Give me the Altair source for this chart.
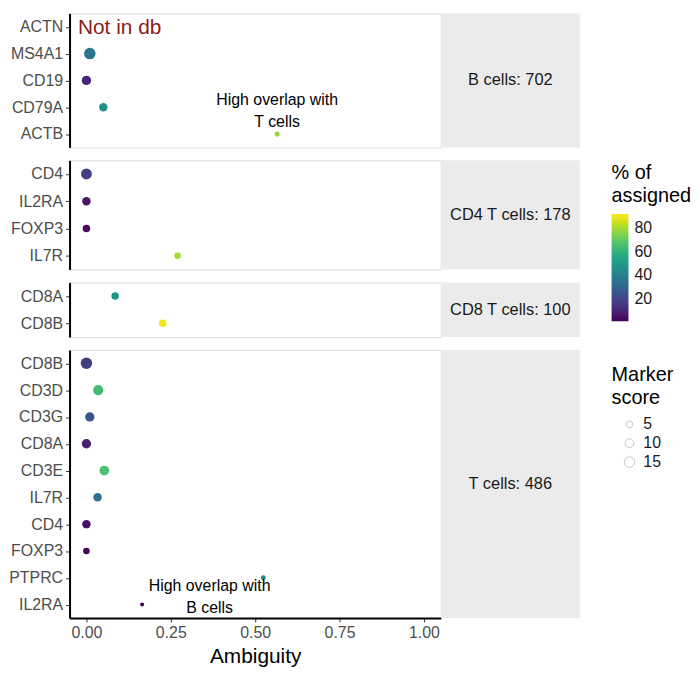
import altair as alt
import pandas as pd

# ---- data ----
cell_types = ["B cells", "CD4 T cells", "CD8 T cells", "T cells"]
cell_counts = [702, 178, 100, 486]

panel = (["B cells"] * 5 + ["CD4 T cells"] * 4 + ["CD8 T cells"] * 2 + ["T cells"] * 10)
genes = ["ACTN", "MS4A1", "CD19", "CD79A", "ACTB",
         "CD4", "IL2RA", "FOXP3", "IL7R",
         "CD8A", "CD8B",
         "CD8B", "CD3D", "CD3G", "CD8A", "CD3E", "IL7R", "CD4", "FOXP3", "PTPRC", "IL2RA"]
ambiguity = [None, 0.01, 0.0, 0.05, 0.565,
             0.0, 0.0, 0.0, 0.27,
             0.085, 0.226,
             0.0, 0.035, 0.01, 0.0, 0.053, 0.033, 0.0, 0.0, 0.524, 0.165]
pct_assigned = [None, 36, 10, 46, 78,
                17, 6, 3, 80,
                48, 90,
                18, 64, 25, 9, 66, 35, 5, 2, 40, 1]
marker_score = [None, 18, 11.4, 8.9, 2.2,
                16, 8.9, 6.7, 4.7,
                6.7, 6.7,
                18, 14, 11.4, 11.4, 12.5, 9, 9, 4.7, 1.8, 0.6]

notes_panel = ["B cells", "B cells", "T cells"]
notes_gene = ["ACTN", "ACTB", "IL2RA"]
notes_x = [-0.025, 0.565, 0.365]
notes_text = ["Not in db", "High overlap with\nT cells", "High overlap with\nB cells"]

df = pd.DataFrame({"panel": panel, "gene": genes, "ambiguity": ambiguity,
                   "pct": pct_assigned, "score": marker_score})
notes = pd.DataFrame({"panel": notes_panel, "gene": notes_gene, "x": notes_x, "text": notes_text})

PW = 374
SW = 140
heights = [135, 110, 55, 270]

color_legend = alt.Legend(title=["% of", "assigned"], orient="none", legendX=546, legendY=151,
                          values=[20, 40, 60, 80], gradientLength=108, gradientThickness=17,
                          titleFontSize=20, titleFontWeight="normal", titleColor="#000000",
                          titleLineHeight=23,
                          labelFontSize=16, labelColor="#1a1a1a", titlePadding=8,
                          gradientStrokeWidth=0, labelOffset=6, tickCount=4)
size_legend = alt.Legend(title=["Marker", "score"], orient="none", legendX=546, legendY=354,
                         values=[5, 10, 15], titleFontSize=20, titleFontWeight="normal",
                         titleLineHeight=23,
                         titleColor="#000000", labelFontSize=16, labelColor="#1a1a1a",
                         symbolFillColor="white", symbolStrokeColor="#c8c8c8",
                         symbolStrokeWidth=1, titlePadding=9, rowPadding=3,
                         symbolOffset=10, labelOffset=6)

rows = []
for i, ct in enumerate(cell_types):
    h = heights[i]
    last = i == len(cell_types) - 1
    sub = df[df.panel == ct]
    order = list(sub.gene)
    if last:
        xaxis = alt.Axis(values=[0, 0.25, 0.5, 0.75, 1.0], format=".2f", grid=False,
                         domainColor="#000000", domainWidth=2, tickColor="#333333",
                         tickSize=4, labelFontSize=16, labelColor="#4d4d4d",
                         titleFontSize=21, titleFontWeight="normal", titleColor="#000000",
                         title="Ambiguity", labelPadding=3, titlePadding=5)
    else:
        xaxis = None
    yaxis = alt.Axis(title=None, domainColor="#000000", domainWidth=2, tickColor="#333333",
                     tickSize=4, labelFontSize=16, labelColor="#4d4d4d", labelPadding=3,
                     grid=False)
    xs = alt.Scale(domain=[-0.05, 1.05], nice=False, zero=False)
    ys = alt.Scale(domain=order, padding=0.5)
    pts = alt.Chart(sub).mark_circle(opacity=1).encode(
        x=alt.X("ambiguity:Q", scale=xs, axis=xaxis),
        y=alt.Y("gene:N", scale=ys, axis=yaxis, sort=order),
        color=alt.Color("pct:Q", scale=alt.Scale(scheme="viridis", domain=[1, 92]),
                        legend=color_legend),
        size=alt.Size("score:Q", scale=alt.Scale(domain=[0, 25], range=[12, 180]),
                      legend=size_legend),
    )
    layers = [pts]
    nsub = notes[notes.panel == ct]
    for _, r in nsub.iterrows():
        one = pd.DataFrame([r])
        if r["text"] == "Not in db":
            t = alt.Chart(one).mark_text(align="left", baseline="middle", fontSize=21,
                                         color="#8b1a1a", dy=1)
        elif "T cells" in r["text"]:
            t = alt.Chart(one).mark_text(align="center", baseline="middle", fontSize=16,
                                         color="#000000", lineBreak="\n", lineHeight=22, dy=-34)
        else:
            t = alt.Chart(one).mark_text(align="center", baseline="middle", fontSize=16,
                                         color="#000000", lineBreak="\n", lineHeight=23, dy=-19)
        layers.append(t.encode(x=alt.X("x:Q", scale=xs, axis=xaxis),
                               y=alt.Y("gene:N", scale=ys, axis=yaxis, sort=order),
                               text="text:N"))
    strip_df = pd.DataFrame({"label": [f"{ct}: {cell_counts[i]}"]})
    rect = alt.Chart(strip_df).mark_rect(color="#ebebeb").encode(
        x=alt.value(PW), x2=alt.value(PW + SW), y=alt.value(0), y2=alt.value(h))
    stxt = alt.Chart(strip_df).mark_text(fontSize=16.5, color="#1a1a1a").encode(
        x=alt.value(PW + SW / 2), y=alt.value(h / 2), text="label:N")
    layers = [rect, stxt] + layers
    rows.append(alt.layer(*layers).properties(width=PW, height=h))

chart = alt.vconcat(*rows, spacing=13, bounds="flush").resolve_scale(
    y="independent", color="shared", size="shared"
).properties(
    padding={"top": 2, "left": 0, "right": 0, "bottom": 0}
).configure_view(stroke="#f0f0f0").configure(
    font="Liberation Sans"
).configure_axis(grid=False)

chart.save("out.html", embed_options={"renderer": "svg", "actions": False})
